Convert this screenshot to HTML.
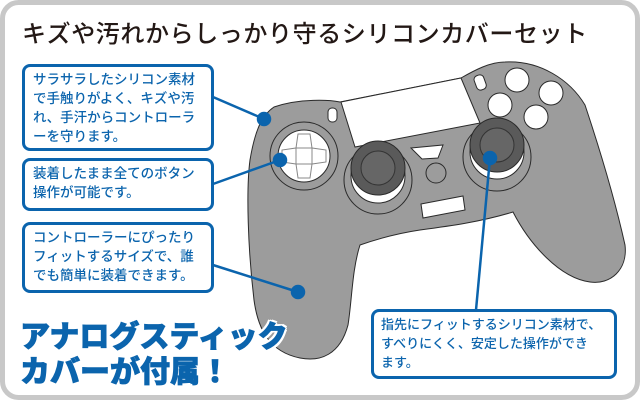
<!DOCTYPE html>
<html><head><meta charset="utf-8"><style>
body{margin:0;width:640px;height:400px;overflow:hidden;background:#fff;font-family:"Liberation Sans","Noto Sans CJK JP",sans-serif}
svg{position:absolute;left:0;top:0}
.box{position:absolute;border:3px solid #0b64ad;border-radius:8px;background:#fff;color:#0b64ad;font-size:13.5px;line-height:19px;padding:3px 4px 3px 8px;box-sizing:border-box;font-weight:500;white-space:nowrap}
.big{position:absolute;left:20px;color:#0b64ad;font-weight:900;font-size:30px;letter-spacing:0px;text-shadow:2px 0 #fff,-2px 0 #fff,0 2px #fff,0 -2px #fff,2px 2px #fff,-2px -2px #fff,2px -2px #fff,-2px 2px #fff;-webkit-text-stroke:0.8px #0b64ad}
</style></head><body>
<svg width="640" height="400" viewBox="0 0 640 400">
<rect x="2.5" y="2.5" width="635" height="395" rx="16" fill="#fff" stroke="#c8c8c8" stroke-width="5"/>
<g stroke="#2a2a2a" stroke-width="1" fill="#9c9c9c">
<path d="M274,107 C300,98 330,100 340,102 L461,78 C475,70 490,62 505,62 C540,60 570,80 585,105 C600,150 615,200 625,245 C628,270 610,285 590,282 C560,278 530,245 513,212 C480,222 450,226 420,230 C400,233 380,238 360,245 C352,270 352,300 348,325 C340,355 320,362 300,358 C270,352 258,330 254,300 C248,250 246,190 250,160 C255,130 262,115 274,107 Z"/>
<path d="M341,102 L461,78 L480,123 L355,147 Z" fill="#fff"/>
<circle cx="304" cy="156" r="34" fill="none"/>
<circle cx="304" cy="156" r="26" fill="#fff"/>
<g fill="none" stroke="#888">
<path d="M298,134 h12 l2,14 h-16 z"/><path d="M298,178 h12 l2,-14 h-16 z"/>
<path d="M282,150 v12 l14,2 v-16 z"/><path d="M326,150 v12 l-14,2 v-16 z"/>
</g>
<rect x="328" y="108" width="9" height="14" rx="4" fill="#fff"/>
<rect x="475" y="75" width="10" height="15" rx="4" fill="#fff" transform="rotate(-20 480 82)"/>
<circle cx="517" cy="80" r="12" fill="#fff"/>
<circle cx="551" cy="93" r="12" fill="#fff"/>
<circle cx="500" cy="105" r="12" fill="#fff"/>
<circle cx="536" cy="117" r="12" fill="#fff"/>
<circle cx="378" cy="180" r="34" fill="#9c9c9c"/>
<circle cx="497" cy="157" r="34" fill="#9c9c9c"/>
<circle cx="378" cy="176" r="27" fill="#fff"/>
<circle cx="497" cy="152" r="27" fill="#fff"/>
<circle cx="378" cy="168" r="27" fill="#5a5a5a"/>
<circle cx="378" cy="168" r="17" fill="#666" stroke="#333"/>
<circle cx="497" cy="145" r="27" fill="#5a5a5a"/>
<circle cx="497" cy="145" r="17" fill="#666" stroke="#333"/>
<circle cx="436" cy="173" r="10" fill="none"/>
<path d="M411,148 L443,145 L438,158 L422,159 Z" fill="#fff"/>
<path d="M421,204 L463,196 L465,210 L423,218 Z" fill="#fff"/>
</g>
<g stroke="#0b64ad" stroke-width="2.5" fill="#0b64ad">
<line x1="213" y1="97" x2="264" y2="119"/><circle cx="264" cy="119" r="6"/>
<line x1="213" y1="184" x2="280" y2="160"/><circle cx="280" cy="160" r="6"/>
<line x1="213" y1="265" x2="298" y2="292"/><circle cx="298" cy="292" r="6"/>
<line x1="476" y1="310" x2="490" y2="158"/><circle cx="490" cy="158" r="6"/>
</g>
</svg>
<div style="position:absolute;left:22px;top:14px;font-size:24px;color:#231815;letter-spacing:0.6px;font-weight:500">キズや汚れからしっかり守るシリコンカバーセット</div>
<div class="box" style="left:22px;top:64px;width:192px;height:87px">サラサラしたシリコン素材<br>で手触りがよく、キズや汚<br>れ、手汗からコントローラ<br>ーを守ります。</div>
<div class="box" style="left:22px;top:158px;width:192px;height:53px">装着したまま全てのボタン<br>操作が可能です。</div>
<div class="box" style="left:22px;top:222px;width:192px;height:71px">コントローラーにぴったり<br>フィットするサイズで、誰<br>でも簡単に装着できます。</div>
<div class="box" style="left:371px;top:309px;width:246px;height:70px;font-size:13px;padding-left:7px">指先にフィットするシリコン素材で、<br>すべりにくく、安定した操作ができ<br>ます。</div>
<div class="big" style="top:312px">アナログスティック</div>
<div class="big" style="top:347px">カバーが付属！</div>
</body></html>
